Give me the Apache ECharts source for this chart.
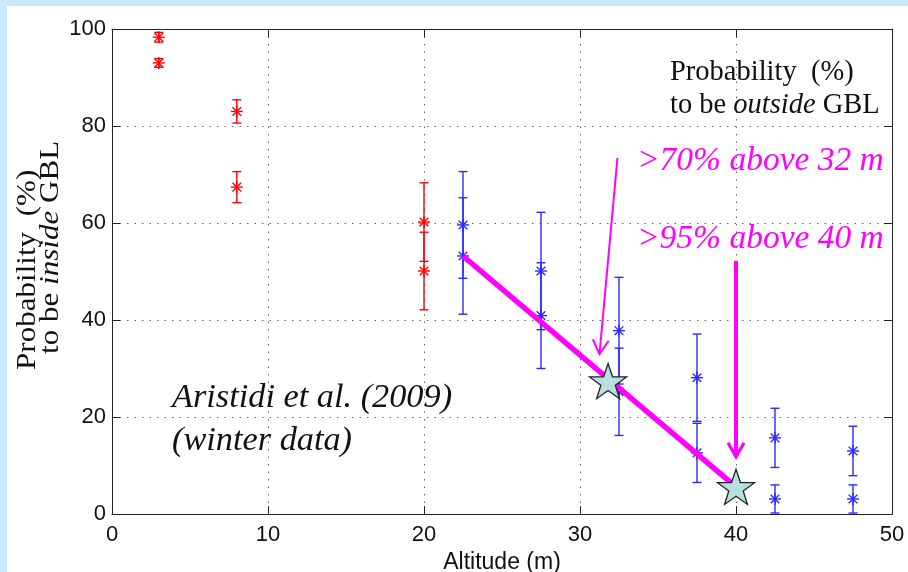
<!DOCTYPE html>
<html><head><meta charset="utf-8">
<script src="https://cdn.jsdelivr.net/npm/echarts@6/dist/echarts.min.js"></script>
<style>html,body{margin:0;padding:0;background:#fff}#c{width:908px;height:572px}</style>
</head><body><div id="c"></div>
<script>
// ---- data ----
const xTicks = [0, 10, 20, 30, 40, 50];
const yTicks = [0, 20, 40, 60, 80, 100];
const redX = [3, 3, 8, 8, 20, 20];
const redY = [98.3, 93.0, 83.0, 67.4, 60.2, 50.1];
const redErr = [1.0, 0.9, 2.4, 3.2, 8.1, 8.0];
const blueX = [22.5, 22.5, 27.5, 27.5, 32.5, 32.5, 37.5, 37.5, 42.5, 42.5, 47.5, 47.5];
const blueY = [59.6, 53.2, 50.1, 40.9, 37.8, 25.2, 28.1, 12.6, 15.7, 3.1, 13.0, 3.1];
const blueErr = [11.0, 12.0, 12.1, 10.9, 11.0, 9.0, 9.0, 6.1, 6.1, 2.9, 5.1, 2.9];
const fitX = [22.5, 40.0];
const fitY = [53.2, 5.6];
const starX = [31.8, 40.0];
const starY = [27.4, 5.6];
const arrowFromX = [32.4, 40.0];
const arrowFromY = [73.4, 52.2];
const arrowToX = [31.25, 40.0];
const arrowToY = [33.0, 11.8];
const arrowWidth = [2, 4];

// ---- helpers ----
const MAG = '#ff00ff';
function starPath() {
  let s = '';
  for (let i = 0; i < 10; i++) {
    const r = i % 2 ? 19.5 : 50;
    const a = -Math.PI / 2 + i * Math.PI / 5;
    s += (i ? 'L' : 'M') + (50 + r * Math.cos(a)).toFixed(2) + ' ' + (50 + r * Math.sin(a)).toFixed(2) + ' ';
  }
  return 'path://' + s + 'Z';
}
function errRender(color) {
  return function (params, api) {
    const x = api.value(0), y = api.value(1), e = api.value(2);
    const c = api.coord([x, y]), t = api.coord([x, y + e]), b = api.coord([x, y - e]);
    const cw = 4.5, r = 6, d = 4.3;
    const st = { stroke: color, lineWidth: 1.4, fill: null };
    const L = (x1, y1, x2, y2) => ({ type: 'line', shape: { x1, y1, x2, y2 }, style: st });
    return { type: 'group', children: [
      L(t[0], t[1], b[0], b[1]),
      L(t[0] - cw, t[1], t[0] + cw, t[1]),
      L(b[0] - cw, b[1], b[0] + cw, b[1]),
      L(c[0] - r, c[1], c[0] + r, c[1]),
      L(c[0], c[1] - r, c[0], c[1] + r),
      L(c[0] - d, c[1] - d, c[0] + d, c[1] + d),
      L(c[0] - d, c[1] + d, c[0] + d, c[1] - d)
    ]};
  };
}
function arrowRender(params, api) {
  const p1 = api.coord([api.value(0), api.value(1)]);
  const p2 = api.coord([api.value(2), api.value(3)]);
  const lw = api.value(4);
  let ux = p2[0] - p1[0], uy = p2[1] - p1[1];
  const len = Math.hypot(ux, uy); ux /= len; uy /= len;
  const nx = -uy, ny = ux, H = 14, W = 8;
  return { type: 'group', children: [
    { type: 'line', shape: { x1: p1[0], y1: p1[1], x2: p2[0], y2: p2[1] }, style: { stroke: MAG, lineWidth: lw } },
    { type: 'polyline', shape: { points: [
      [p2[0] - H * ux + W * nx, p2[1] - H * uy + W * ny], p2,
      [p2[0] - H * ux - W * nx, p2[1] - H * uy - W * ny]] },
      style: { stroke: MAG, lineWidth: Math.max(2, lw - 0.8), fill: null } }
  ]};
}

const axisCommon = {
  type: 'value',
  axisLine: { show: true, onZero: false, lineStyle: { color: '#222', width: 1 } },
  axisTick: { show: true, inside: true, length: 8, lineStyle: { color: '#222' } },
};
const labelFont = { fontFamily: 'Liberation Sans', fontSize: 22, color: '#111' };
const serif = 'Liberation Serif';
const ylabRich = {
  a: { fontFamily: serif, fontSize: 28, fill: '#111' },
  i: { fontFamily: serif, fontSize: 28, fill: '#111', fontStyle: 'italic' }
};

const chart = echarts.init(document.getElementById('c'), null, { renderer: 'canvas' });
chart.setOption({
  backgroundColor: '#fff',
  animation: false,
  grid: { left: 112, top: 29, width: 780, height: 485, containLabel: false, outerBoundsMode: 'none' },
  xAxis: [
    Object.assign({}, axisCommon, {
      position: 'bottom', min: xTicks[0], max: xTicks[xTicks.length - 1], interval: xTicks[1] - xTicks[0],
      axisLabel: Object.assign({ margin: 10 }, labelFont),
      splitLine: { show: true, lineStyle: { type: [1.5, 6], color: '#666', width: 1 } },
      name: 'Altitude (m)', nameLocation: 'middle', nameGap: 28,
      nameTextStyle: { fontFamily: 'Liberation Sans', fontSize: 23, color: '#111' }
    }),
    Object.assign({}, axisCommon, {
      position: 'top', min: xTicks[0], max: xTicks[xTicks.length - 1], interval: xTicks[1] - xTicks[0],
      axisLabel: { show: false }, splitLine: { show: false }
    })
  ],
  yAxis: [
    Object.assign({}, axisCommon, {
      position: 'left', min: yTicks[0], max: yTicks[yTicks.length - 1], interval: yTicks[1] - yTicks[0],
      axisLabel: Object.assign({ margin: 6 }, labelFont),
      splitLine: { show: true, lineStyle: { type: [1.5, 6], color: '#666', width: 1 } }
    }),
    Object.assign({}, axisCommon, {
      position: 'right', min: yTicks[0], max: yTicks[yTicks.length - 1], interval: yTicks[1] - yTicks[0],
      axisLabel: { show: false }, splitLine: { show: false }
    })
  ],
  series: [
    { type: 'custom', name: 'red', renderItem: errRender('#ff0000'), encode: { x: 0, y: 1 }, z: 2,
      data: redX.map((x, i) => [x, redY[i], redErr[i]]) },
    { type: 'custom', name: 'blue', renderItem: errRender('#2a2aff'), encode: { x: 0, y: 1 }, z: 2,
      data: blueX.map((x, i) => [x, blueY[i], blueErr[i]]) },
    { type: 'line', name: 'fit', z: 3, symbol: 'none', lineStyle: { color: MAG, width: 5.5 },
      data: fitX.map((x, i) => [x, fitY[i]]) },
    { type: 'custom', name: 'arrows', renderItem: arrowRender, encode: { x: [0, 2], y: [1, 3] }, z: 4,
      data: arrowFromX.map((x, i) => [x, arrowFromY[i], arrowToX[i], arrowToY[i], arrowWidth[i]]) },
    { type: 'scatter', name: 'stars', z: 5, symbol: starPath(), symbolSize: 37, symbolKeepAspect: true,
      itemStyle: { color: '#b8e0e0', borderColor: '#222', borderWidth: 1.3, opacity: 1 },
      data: starX.map((x, i) => [x, starY[i]]) }
  ],
  graphic: [
    { type: 'rect', z: -10, shape: { x: 0, y: 0, width: 908, height: 6 }, style: { fill: '#c8e8fb' } },
    { type: 'rect', z: -10, shape: { x: 0, y: 0, width: 7, height: 572 }, style: { fill: '#c8e8fb' } },
    { type: 'text', x: 27.5, y: 370, rotation: Math.PI / 2, scaleX: 1.11, scaleY: 1, z: 10,
      style: { text: '{a|Probability  (%)}', align: 'left', verticalAlign: 'middle', rich: ylabRich } },
    { type: 'text', x: 51, y: 354, rotation: Math.PI / 2, scaleX: 1.11, scaleY: 1, z: 10,
      style: { text: '{a|to be }{i|inside}{a| GBL}', align: 'left', verticalAlign: 'middle', rich: ylabRich } },
    { type: 'text', x: 670, y: 56, z: 10,
      style: { text: '{a|Probability  (%)}\n{a|to be }{i|outside}{a| GBL}', align: 'left', verticalAlign: 'top',
        rich: { a: { fontFamily: serif, fontSize: 28.5, lineHeight: 33, fill: '#111' },
                i: { fontFamily: serif, fontSize: 28.5, lineHeight: 33, fill: '#111', fontStyle: 'italic' } } } },
    { type: 'text', x: 637, y: 161, z: 10,
      style: { text: '>70% above 32 m', fontFamily: serif, fontStyle: 'italic', fontSize: 33.5, fill: MAG, align: 'left', verticalAlign: 'middle' } },
    { type: 'text', x: 637, y: 239, z: 10,
      style: { text: '>95% above 40 m', fontFamily: serif, fontStyle: 'italic', fontSize: 33.5, fill: MAG, align: 'left', verticalAlign: 'middle' } },
    { type: 'text', x: 172, y: 376, z: 10,
      style: { text: 'Aristidi et al. (2009)\n(winter data)', fontFamily: serif, fontStyle: 'italic', fontSize: 34.3, lineHeight: 43, fill: '#111', align: 'left', verticalAlign: 'top' } }
  ]
});
</script></body></html>
